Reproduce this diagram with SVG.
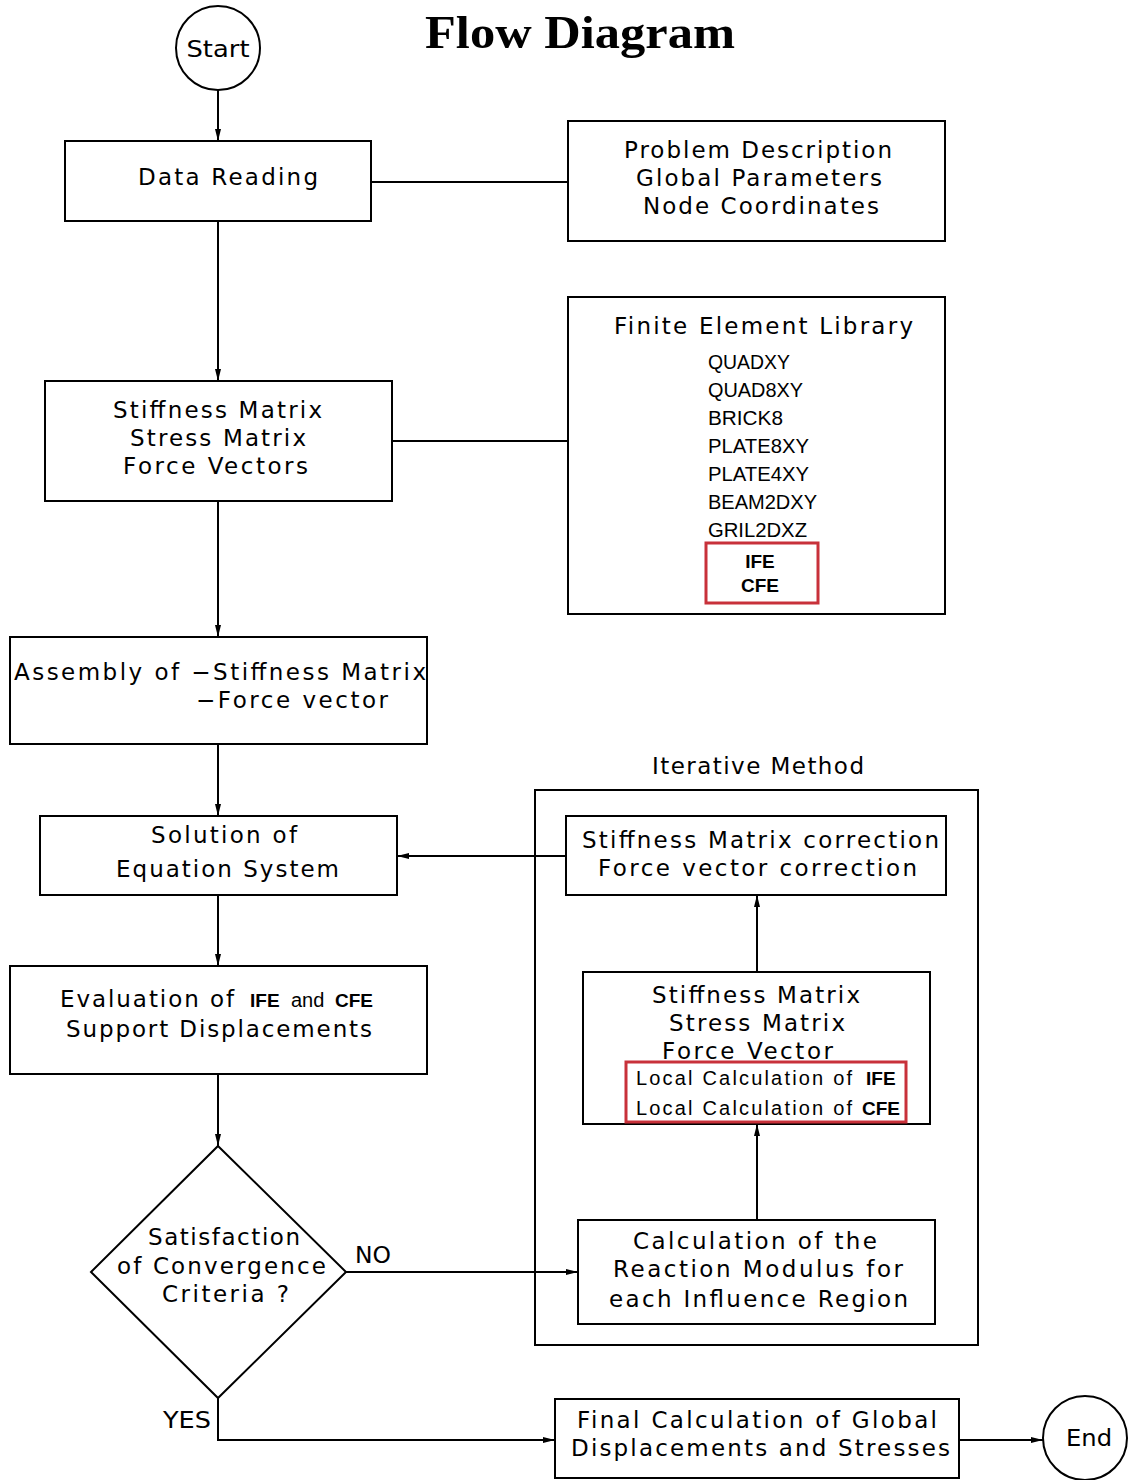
<svg xmlns="http://www.w3.org/2000/svg" width="1128" height="1480" viewBox="0 0 1128 1480">
<defs>
<style>
.b{fill:#fff;stroke:#000;stroke-width:2}
.r{fill:none;stroke:#c8313a;stroke-width:3}
.c{fill:none;stroke:#000;stroke-width:2}
.t{font-family:"DejaVu Sans","Liberation Sans",Arial,sans-serif;font-size:23px;fill:#000}
.m{text-anchor:middle}
.s{font-family:"Liberation Sans",Arial,sans-serif;font-size:20px;fill:#000}
.k{font-family:"Liberation Sans",Arial,sans-serif;font-weight:bold;font-size:19px;fill:#000}
.title{font-family:"Liberation Serif","Times New Roman",serif;font-weight:bold;font-size:46px;fill:#000}
</style>
<marker id="ah" viewBox="0 0 12 6" refX="12" refY="3" markerWidth="12" markerHeight="6" markerUnits="userSpaceOnUse" orient="auto">
<path d="M0,0 L12,3 L0,6 Z" fill="#000"/>
</marker>
</defs>
<rect width="1128" height="1480" fill="#fff"/>
<text class="title m" x="580" y="48" textLength="310" lengthAdjust="spacingAndGlyphs">Flow Diagram</text>

<g id="connectors">
<line class="c" x1="218" y1="90" x2="218" y2="141" marker-end="url(#ah)"/>
<line class="c" x1="371" y1="182" x2="568" y2="182"/>
<line class="c" x1="218" y1="221" x2="218" y2="381" marker-end="url(#ah)"/>
<line class="c" x1="392" y1="441" x2="568" y2="441"/>
<line class="c" x1="218" y1="501" x2="218" y2="637" marker-end="url(#ah)"/>
<line class="c" x1="218" y1="744" x2="218" y2="816" marker-end="url(#ah)"/>
<line class="c" x1="218" y1="895" x2="218" y2="966" marker-end="url(#ah)"/>
<line class="c" x1="218" y1="1074" x2="218" y2="1146" marker-end="url(#ah)"/>
<line class="c" x1="346" y1="1272" x2="578" y2="1272" marker-end="url(#ah)"/>
<polyline class="c" points="218,1398 218,1440 555,1440" marker-end="url(#ah)"/>
<line class="c" x1="566" y1="856" x2="397" y2="856" marker-end="url(#ah)"/>
<line class="c" x1="757" y1="972" x2="757" y2="895" marker-end="url(#ah)"/>
<line class="c" x1="757" y1="1220" x2="757" y2="1124" marker-end="url(#ah)"/>
<line class="c" x1="959" y1="1440" x2="1043" y2="1440" marker-end="url(#ah)"/>
<text class="t" x="355" y="1263" textLength="36" lengthAdjust="spacingAndGlyphs">NO</text>
<text class="t" x="163" y="1428" textLength="48" lengthAdjust="spacingAndGlyphs">YES</text>
</g>

<g id="start">
<circle class="b" cx="218" cy="48" r="42"/>
<text class="t m" x="218" y="57" textLength="63" lengthAdjust="spacingAndGlyphs">Start</text>
</g>

<g id="data-reading">
<rect class="b" x="65" y="141" width="306" height="80"/>
<text class="t" x="138" y="185" textLength="180" lengthAdjust="spacing">Data Reading</text>
</g>

<g id="problem-description">
<rect class="b" x="568" y="121" width="377" height="120"/>
<text class="t" x="624" y="158" textLength="268" lengthAdjust="spacing">Problem Description</text>
<text class="t" x="636" y="186" textLength="246" lengthAdjust="spacing">Global Parameters</text>
<text class="t" x="643" y="214" textLength="236" lengthAdjust="spacing">Node Coordinates</text>
</g>

<g id="stiffness-matrix">
<rect class="b" x="45" y="381" width="347" height="120"/>
<text class="t" x="113" y="418" textLength="209" lengthAdjust="spacing">Stiffness Matrix</text>
<text class="t" x="130" y="446" textLength="176" lengthAdjust="spacing">Stress Matrix</text>
<text class="t" x="123" y="474" textLength="185" lengthAdjust="spacing">Force Vectors</text>
</g>

<g id="finite-element-library">
<rect class="b" x="568" y="297" width="377" height="317"/>
<text class="t" x="614" y="334" textLength="299" lengthAdjust="spacing">Finite Element Library</text>
<text class="s" x="708" y="369" textLength="82" lengthAdjust="spacingAndGlyphs">QUADXY</text>
<text class="s" x="708" y="397" textLength="95" lengthAdjust="spacingAndGlyphs">QUAD8XY</text>
<text class="s" x="708" y="425" textLength="75" lengthAdjust="spacingAndGlyphs">BRICK8</text>
<text class="s" x="708" y="453" textLength="101" lengthAdjust="spacingAndGlyphs">PLATE8XY</text>
<text class="s" x="708" y="481" textLength="101" lengthAdjust="spacingAndGlyphs">PLATE4XY</text>
<text class="s" x="708" y="509" textLength="109" lengthAdjust="spacingAndGlyphs">BEAM2DXY</text>
<text class="s" x="708" y="537" textLength="99" lengthAdjust="spacingAndGlyphs">GRIL2DXZ</text>
<rect class="r" x="706" y="543" width="112" height="60"/>
<text class="k m" x="760" y="568">IFE</text>
<text class="k m" x="760" y="592">CFE</text>
</g>

<g id="assembly">
<rect class="b" x="10" y="637" width="417" height="107"/>
<text class="t" x="14" y="680" textLength="412" lengthAdjust="spacing">Assembly of −Stiffness Matrix</text>
<text class="t" x="196" y="708" textLength="192" lengthAdjust="spacing">−Force vector</text>
</g>

<g id="solution">
<rect class="b" x="40" y="816" width="357" height="79"/>
<text class="t" x="151" y="843" textLength="146" lengthAdjust="spacing">Solution of</text>
<text class="t" x="116" y="877" textLength="223" lengthAdjust="spacing">Equation System</text>
</g>

<g id="evaluation">
<rect class="b" x="10" y="966" width="417" height="108"/>
<text class="t" x="60" y="1007" textLength="174" lengthAdjust="spacing">Evaluation of</text>
<text class="k" x="250" y="1007">IFE</text>
<text class="s" x="291" y="1007">and</text>
<text class="k" x="335" y="1007">CFE</text>
<text class="t" x="66" y="1037" textLength="306" lengthAdjust="spacing">Support Displacements</text>
</g>

<g id="convergence">
<polygon class="b" points="218,1146 346,1272 218,1398 91,1272"/>
<text class="t" x="148" y="1245" textLength="152" lengthAdjust="spacing">Satisfaction</text>
<text class="t" x="117" y="1274" textLength="209" lengthAdjust="spacing">of Convergence</text>
<text class="t" x="162" y="1302" textLength="127" lengthAdjust="spacing">Criteria ?</text>
</g>

<g id="iterative-method">
<rect class="c" x="535" y="790" width="443" height="555"/>
<text class="t" x="652" y="774" textLength="212" lengthAdjust="spacing">Iterative Method</text>
</g>

<g id="correction">
<rect class="b" x="566" y="816" width="380" height="79"/>
<text class="t" x="582" y="848" textLength="357" lengthAdjust="spacing">Stiffness Matrix correction</text>
<text class="t" x="598" y="876" textLength="319" lengthAdjust="spacing">Force vector correction</text>
</g>

<g id="local-calculation">
<rect class="b" x="583" y="972" width="347" height="152"/>
<text class="t" x="652" y="1003" textLength="208" lengthAdjust="spacing">Stiffness Matrix</text>
<text class="t" x="669" y="1031" textLength="176" lengthAdjust="spacing">Stress Matrix</text>
<text class="t" x="662" y="1059" textLength="171" lengthAdjust="spacing">Force Vector</text>
<rect class="r" x="626" y="1062" width="280" height="60"/>
<text class="s" x="636" y="1085" textLength="216" lengthAdjust="spacing">Local Calculation of</text>
<text class="k" x="866" y="1085">IFE</text>
<text class="s" x="636" y="1115" textLength="216" lengthAdjust="spacing">Local Calculation of</text>
<text class="k" x="862" y="1115">CFE</text>
</g>

<g id="reaction-modulus">
<rect class="b" x="578" y="1220" width="357" height="104"/>
<text class="t" x="633" y="1249" textLength="244" lengthAdjust="spacing">Calculation of the</text>
<text class="t" x="613" y="1277" textLength="290" lengthAdjust="spacing">Reaction Modulus for</text>
<text class="t" x="609" y="1307" textLength="299" lengthAdjust="spacing">each Influence Region</text>
</g>

<g id="final-calculation">
<rect class="b" x="555" y="1399" width="404" height="79"/>
<text class="t" x="577" y="1428" textLength="360" lengthAdjust="spacing">Final Calculation of Global</text>
<text class="t" x="571" y="1456" textLength="379" lengthAdjust="spacing">Displacements and Stresses</text>
</g>

<g id="end">
<circle class="b" cx="1085" cy="1438" r="42"/>
<text class="t m" x="1089" y="1446" textLength="46" lengthAdjust="spacingAndGlyphs">End</text>
</g>
</svg>
